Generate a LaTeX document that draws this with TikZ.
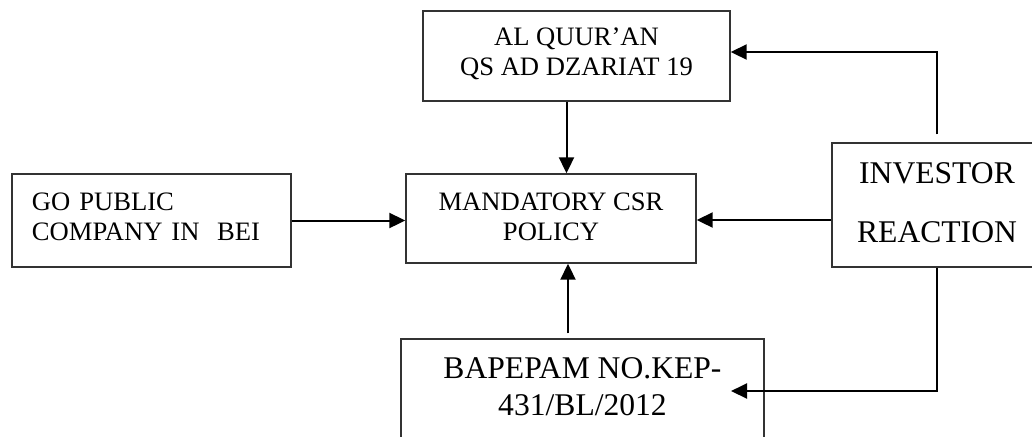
\documentclass[tikz,border=0pt]{standalone}
\usepackage{fontspec}
\setmainfont{Liberation Serif}
\usetikzlibrary{arrows.meta}
\tikzset{
  flowbox/.style={
    draw=black!80, line width=0.7pt,
    inner xsep=0pt, inner ysep=0pt,
    align=center,
    font=\fontsize{13.3}{15}\selectfont
  },
  bigbox/.style={
    flowbox,
    font=\fontsize{15.8}{18.5}\selectfont
  },
  link/.style={
    -{Triangle[length=8pt,width=7.5pt]},
    line width=1pt,
    draw=black
  }
}

\begin{document}
\begin{tikzpicture}[x=0.5pt, y=-0.5pt]
  \clip (0,0) rectangle (1032,436);

  \node[flowbox, minimum width=153.5pt, text height=32pt, text depth=13pt] (quran) at (576.5,56) {AL QUUR’AN\\QS AD DZARIAT 19};
  \node[flowbox, minimum width=145pt, text height=33pt, text depth=11.5pt] (mand) at (551,218.5) {MANDATORY CSR\\POLICY};
  \node[flowbox, minimum width=139.5pt, inner xsep=10pt, text width=119.5pt, align=left, text height=18pt, text depth=28.5pt] (gopub) at (151.5,220.5) {GO PUBLIC\\COMPANY IN~~BEI};
  \node[bigbox, minimum width=105pt, text height=49.5pt, text depth=12.5pt] (invest) at (937,205) {INVESTOR\\[11pt]REACTION};
  \node[bigbox, minimum width=181.5pt, text height=38pt, text depth=22pt] (bape) at (582.5,399) {BAPEPAM NO.KEP-\\431/BL/2012};

  \coordinate (bapein) at (731,391);

  \draw[link] ([xshift=-5pt]quran.south) -- ([xshift=-5pt]quran.south |- mand.north);
  \draw[link] (gopub.east) -- (gopub.east -| mand.west);
  \draw[link] ([yshift=-7.5pt]invest.west) -- ([yshift=-7.5pt]invest.west -| mand.east);
  \draw[link] ([xshift=-7.25pt,yshift=2.5pt]bape.north) -- ([xshift=-7.25pt]bape.north |- mand.south);
  \draw[link] ([yshift=4pt]invest.north) |- ([yshift=2pt]quran.east);
  \draw[link] (invest.south) |- (bapein);
\end{tikzpicture}
\end{document}
